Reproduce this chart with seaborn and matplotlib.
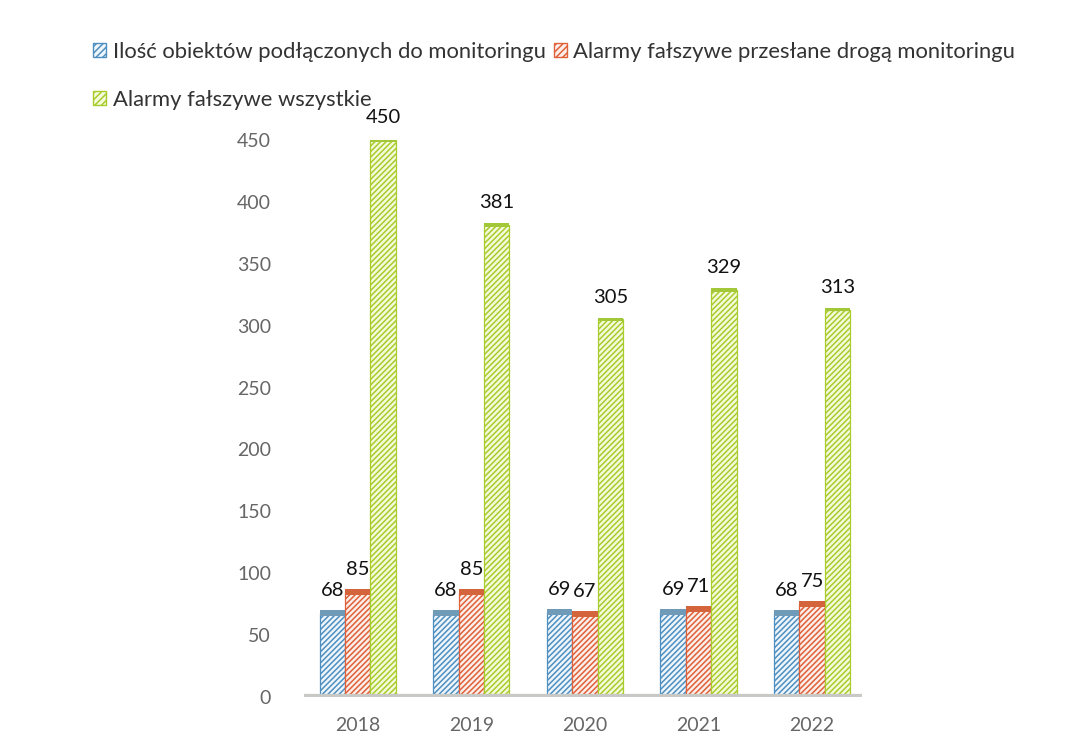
import matplotlib
matplotlib.use("Agg")
import matplotlib.pyplot as plt
import seaborn as sns
import pandas as pd
import numpy as np

years = ["2018", "2019", "2020", "2021", "2022"]
series = ["Ilość obiektów podłączonych do monitoringu",
          "Alarmy fałszywe przesłane drogą monitoringu",
          "Alarmy fałszywe wszystkie"]
obiekty = [68, 68, 69, 69, 68]
alarmy_monit = [85, 85, 67, 71, 75]
alarmy_all = [450, 381, 305, 329, 313]
yticks = [0, 50, 100, 150, 200, 250, 300, 350, 400, 450]

values = [obiekty, alarmy_monit, alarmy_all]
df = pd.DataFrame({
    "year": [y for s in series for y in years],
    "series": [s for s in series for _ in years],
    "value": [v for vals in values for v in vals],
})

hatch_cols = ["#4f8fc0", "#e0603a", "#a8cc2c"]
face_cols = ["#eef6fb", "#fcefe9", "#f6fadc"]
cap_cols = ["#6f9ab8", "#d4643c", "#a2c83a"]
cap_h = [5, 5, 3]

sns.set_theme(style="white")
plt.rcParams["font.family"] = ["Lato", "DejaVu Sans"]
plt.rcParams["hatch.linewidth"] = 1.1

fig = plt.figure(figsize=(10.83, 7.40), dpi=100)
ax = fig.add_axes([0.281, 0.058, 0.515, 0.753])

sns.barplot(data=df, x="year", y="value", hue="series", hue_order=series,
            palette=hatch_cols, width=0.67, ax=ax, legend=True, saturation=1)

containers = list(ax.containers)
for i, cont in enumerate(containers):
    for p in cont.patches:
        p.set_facecolor(face_cols[i])
        p.set_edgecolor(hatch_cols[i])
        p.set_hatch("//////")
        p.set_linewidth(0.9)
    ax.bar_label(cont, labels=[str(v) for v in values[i]], padding=10,
                 fontsize=14.5, color="#111111")
for i, cont in enumerate(containers):
    xs = [p.get_x() + p.get_width() / 2 for p in cont.patches]
    w = cont.patches[0].get_width()
    ax.bar(xs, [cap_h[i]] * len(xs), bottom=[v - cap_h[i] / 2 for v in values[i]],
           width=w, color=cap_cols[i], linewidth=0, zorder=3)

ax.set_xlim(-0.47, 4.44)
ax.set_ylim(0, 450)
ax.set_yticks(yticks)
ax.set_xlabel("")
ax.set_ylabel("")
ax.tick_params(axis="y", length=0, pad=24, labelsize=14, labelcolor="#666666")
ax.tick_params(axis="x", length=0, pad=14, labelsize=14, labelcolor="#666666")
for s in ax.spines.values():
    s.set_visible(False)
ax.axhline(0, color="#c8c8c4", lw=4.5, zorder=1)
ax.grid(False)

handles, labels = ax.get_legend_handles_labels()
ax.get_legend().remove()
for i, h in enumerate(handles):
    h.set_facecolor(face_cols[i])
    h.set_edgecolor(hatch_cols[i])
    h.set_hatch("/////")
order = [0, 2, 1]
fig.legend([handles[k] for k in order], [labels[k] for k in order],
           loc="upper left", bbox_to_anchor=(0.078, 0.955), ncol=2,
           frameon=False, fontsize=15.8, handlelength=0.6, handleheight=0.6,
           handletextpad=0.3, columnspacing=0.35, labelspacing=1.27,
           labelcolor="#333333", borderaxespad=0)

fig.savefig("out.png", dpi=100, facecolor="white")
